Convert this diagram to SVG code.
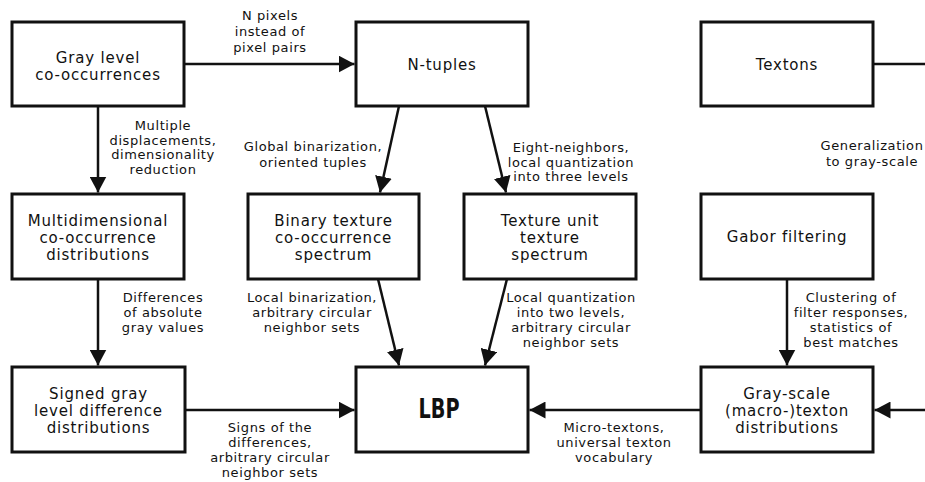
<svg xmlns="http://www.w3.org/2000/svg" width="925" height="482" viewBox="0 0 925 482">
<style>
.box{fill:#fff;stroke:#111;stroke-width:3}
.nt{font-family:"DejaVu Sans",sans-serif;font-size:15px;letter-spacing:0.8px;fill:#111;text-anchor:middle}
.lb{font-family:"DejaVu Sans",sans-serif;font-size:13px;letter-spacing:0.6px;fill:#111;text-anchor:middle}
.c{stroke:#111;stroke-width:2.5;fill:none}
.a{marker-end:url(#ah)}
</style>
<defs>
<marker id="ah" markerUnits="userSpaceOnUse" markerWidth="17" markerHeight="17" refX="16" refY="8.5" orient="auto">
<path d="M0,0 L16,8.5 L0,17 z" fill="#111"/>
</marker>
</defs>
<rect width="925" height="482" fill="#fff"/>
<g id="connectors">
<line class="c a" x1="184" y1="64" x2="354.5" y2="64"/>
<line class="c a" x1="98" y1="106" x2="98" y2="192.5"/>
<line class="c a" x1="399" y1="106" x2="380" y2="192.5"/>
<line class="c a" x1="485" y1="106" x2="506" y2="192.5"/>
<line class="c a" x1="98" y1="279" x2="98" y2="365.5"/>
<line class="c a" x1="378" y1="279" x2="399" y2="365.5"/>
<line class="c a" x1="507" y1="279" x2="485" y2="365.5"/>
<line class="c a" x1="787" y1="279" x2="787" y2="365.5"/>
<line class="c a" x1="185" y1="410" x2="354.5" y2="410"/>
<line class="c a" x1="701" y1="410" x2="529.5" y2="410"/>
<line class="c a" x1="935" y1="410" x2="874.5" y2="410"/>
<line class="c" x1="873" y1="64" x2="935" y2="64"/>
<g id="labels">
<text class="lb" x="270" y="20">N pixels</text>
<text class="lb" x="270" y="36">instead of</text>
<text class="lb" x="270" y="51.5">pixel pairs</text>
<text class="lb" x="163" y="130">Multiple</text>
<text class="lb" x="163" y="144.5">displacements,</text>
<text class="lb" x="163" y="159">dimensionality</text>
<text class="lb" x="163" y="173.5">reduction</text>
<text class="lb" x="313" y="151">Global binarization,</text>
<text class="lb" x="313" y="166.5">oriented tuples</text>
<text class="lb" x="571" y="152">Eight-neighbors,</text>
<text class="lb" x="571" y="166.5">local quantization</text>
<text class="lb" x="571" y="181">into three levels</text>
<text class="lb" x="872" y="150">Generalization</text>
<text class="lb" x="872" y="166">to gray-scale</text>
<text class="lb" x="163" y="302">Differences</text>
<text class="lb" x="163" y="317">of absolute</text>
<text class="lb" x="163" y="332">gray values</text>
<text class="lb" x="312" y="302">Local binarization,</text>
<text class="lb" x="312" y="317">arbitrary circular</text>
<text class="lb" x="312" y="332">neighbor sets</text>
<text class="lb" x="571" y="302">Local quantization</text>
<text class="lb" x="571" y="317">into two levels,</text>
<text class="lb" x="571" y="332">arbitrary circular</text>
<text class="lb" x="571" y="347">neighbor sets</text>
<text class="lb" x="851" y="302">Clustering of</text>
<text class="lb" x="851" y="317">filter responses,</text>
<text class="lb" x="851" y="332">statistics of</text>
<text class="lb" x="851" y="347">best matches</text>
<text class="lb" x="270" y="432">Signs of the</text>
<text class="lb" x="270" y="447">differences,</text>
<text class="lb" x="270" y="462">arbitrary circular</text>
<text class="lb" x="270" y="477">neighbor sets</text>
<text class="lb" x="614" y="432">Micro-textons,</text>
<text class="lb" x="614" y="447">universal texton</text>
<text class="lb" x="614" y="462">vocabulary</text>
</g>
</g>
<g id="gray-level">
<rect class="box" x="12" y="22" width="172" height="84"/>
<text class="nt" x="98" y="63">Gray level</text>
<text class="nt" x="98" y="80">co-occurrences</text>
</g>
<g id="n-tuples">
<rect class="box" x="356" y="22" width="172" height="84"/>
<text class="nt" x="442" y="69.5">N-tuples</text>
</g>
<g id="textons">
<rect class="box" x="701" y="22" width="172" height="84"/>
<text class="nt" x="787" y="69.5">Textons</text>
</g>
<g id="multidim">
<rect class="box" x="12" y="194" width="172" height="85"/>
<text class="nt" x="98" y="226">Multidimensional</text>
<text class="nt" x="98" y="243">co-occurrence</text>
<text class="nt" x="98" y="260">distributions</text>
</g>
<g id="binary-texture">
<rect class="box" x="248" y="194" width="171" height="85"/>
<text class="nt" x="333.5" y="226">Binary texture</text>
<text class="nt" x="333.5" y="243">co-occurrence</text>
<text class="nt" x="333.5" y="260">spectrum</text>
</g>
<g id="texture-unit">
<rect class="box" x="464" y="194" width="172" height="85"/>
<text class="nt" x="550" y="226">Texture unit</text>
<text class="nt" x="550" y="243">texture</text>
<text class="nt" x="550" y="260">spectrum</text>
</g>
<g id="gabor">
<rect class="box" x="701" y="194" width="172" height="85"/>
<text class="nt" x="787" y="242">Gabor filtering</text>
</g>
<g id="signed-gray">
<rect class="box" x="12" y="367" width="173" height="85"/>
<text class="nt" x="98.5" y="399">Signed gray</text>
<text class="nt" x="98.5" y="416">level difference</text>
<text class="nt" x="98.5" y="433">distributions</text>
</g>
<g id="lbp">
<rect class="box" x="356" y="367" width="172" height="85"/>
<text x="439" y="418" font-family="'DejaVu Sans',sans-serif" font-weight="bold" font-size="26" fill="#111" text-anchor="middle" textLength="41" lengthAdjust="spacingAndGlyphs">LBP</text>
</g>
<g id="gray-scale-texton">
<rect class="box" x="701" y="367" width="172" height="85"/>
<text class="nt" x="787" y="399">Gray-scale</text>
<text class="nt" x="787" y="416">(macro-)texton</text>
<text class="nt" x="787" y="433">distributions</text>
</g>
</svg>
